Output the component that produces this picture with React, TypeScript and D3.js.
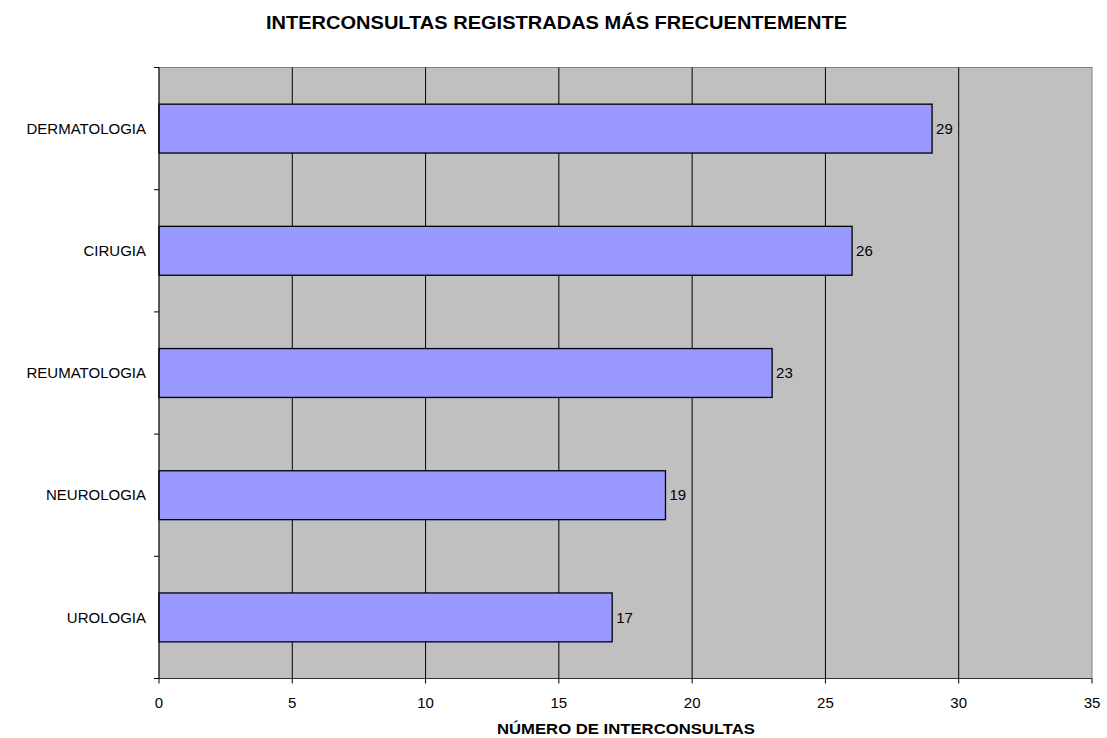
import React from "react";
import * as d3 from "d3";

const categories = ["DERMATOLOGIA", "CIRUGIA", "REUMATOLOGIA", "NEUROLOGIA", "UROLOGIA"];
const values = [29, 26, 23, 19, 17];
const xTicks = [0, 5, 10, 15, 20, 25, 30, 35];
const title = "INTERCONSULTAS REGISTRADAS MÁS FRECUENTEMENTE";
const xTitle = "NÚMERO DE INTERCONSULTAS";

export default function App() {
  const W = 1107, H = 738;
  const left = 159, right = 1092, top = 67.5, bottom = 678.5;
  const x = d3.scaleLinear().domain([0, 35]).range([left, right]);
  const y = d3.scaleBand().domain(categories).range([top, bottom]).paddingInner(0.6).paddingOuter(0.3);
  const band = (bottom - top) / categories.length;
  const font = "'Liberation Sans', Arial, sans-serif";
  return (
    <svg width={W} height={H} style={{ position: "absolute", left: 0, top: 0, background: "#fff" }} fontFamily={font}>
      <rect x={left} y={top} width={right - left} height={bottom - top} fill="#c0c0c0" stroke="#808080" strokeWidth={1} />
      {xTicks.slice(1, -1).map(t => (
        <line key={t} x1={x(t)} x2={x(t)} y1={top} y2={bottom} stroke="#000" strokeWidth={1} />
      ))}
      {categories.map((c, i) => (
        <g key={c}>
          <rect x={x(0)} y={y(c)!} width={x(values[i]) - x(0)} height={y.bandwidth()} fill="#9999ff" stroke="#000" strokeWidth={1.3} />
          <text x={x(values[i]) + 4} y={y(c)! + y.bandwidth() / 2} dy="0.35em" fontSize={15}>{values[i]}</text>
          <text x={left - 13} y={y(c)! + y.bandwidth() / 2} dy="0.35em" fontSize={15} textAnchor="end">{c}</text>
        </g>
      ))}
      <line x1={left} x2={left} y1={top} y2={bottom} stroke="#000" strokeWidth={1} />
      {d3.range(categories.length + 1).map(i => (
        <line key={i} x1={left - 5} x2={left} y1={top + i * band} y2={top + i * band} stroke="#000" />
      ))}
      <line x1={left} x2={right} y1={bottom} y2={bottom} stroke="#333" strokeWidth={1} />
      {xTicks.map(t => (
        <g key={t}>
          <line x1={x(t)} x2={x(t)} y1={bottom} y2={bottom + 5} stroke="#000" />
          <text x={x(t)} y={708} textAnchor="middle" fontSize={15}>{t}</text>
        </g>
      ))}
      <text x={497} y={734} fontSize={15.5} fontWeight="bold" textLength={258} lengthAdjust="spacingAndGlyphs">{xTitle}</text>
      <text x={266} y={29} fontSize={18} fontWeight="bold" textLength={581} lengthAdjust="spacingAndGlyphs">{title}</text>
    </svg>
  );
}
